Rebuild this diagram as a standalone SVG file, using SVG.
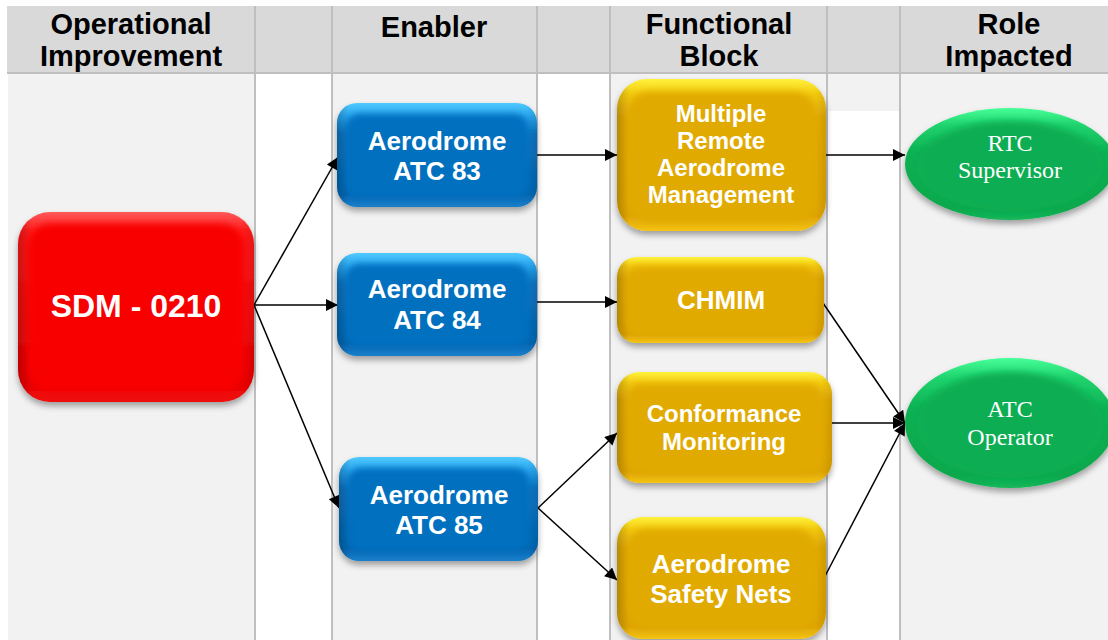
<svg xmlns="http://www.w3.org/2000/svg" width="1108" height="640" viewBox="0 0 1108 640">
  <defs>
    <style>
      .hdr { font-family: "Liberation Sans", Arial, sans-serif; font-weight: bold; font-size: 29px; fill: #000; text-anchor: middle; }
      .lbl { font-family: "Liberation Sans", Arial, sans-serif; font-weight: bold; fill: #fff; text-anchor: middle; }
      .role { font-family: "Liberation Serif", "Times New Roman", serif; font-size: 24px; fill: #fff; text-anchor: middle; }
      .grid { stroke: #bfbfbf; stroke-width: 2; fill: none; }
      .conn line { stroke: #000; stroke-width: 1.5; marker-end: url(#arrow); }
      .edge { fill: url(#sideShade); }
      .core { filter: url(#soft); }
    </style>
    <marker id="arrow" viewBox="0 0 10 10" refX="10" refY="5" markerWidth="16" markerHeight="12" markerUnits="userSpaceOnUse" orient="auto">
      <path d="M0,0 L10,5 L0,10 Z" fill="#000"/>
    </marker>
    <filter id="shadow" x="-10%" y="-10%" width="120%" height="130%">
      <feDropShadow dx="0" dy="4" stdDeviation="3" flood-color="#000" flood-opacity="0.35"/>
    </filter>
    <filter id="soft" x="-10%" y="-10%" width="120%" height="120%">
      <feGaussianBlur stdDeviation="3"/>
    </filter>
    <!-- darker left edge, slightly darker right edge -->
    <linearGradient id="sideShade" x1="0" y1="0" x2="1" y2="0">
      <stop offset="0" stop-color="#000" stop-opacity="0.18"/>
      <stop offset="0.06" stop-color="#000" stop-opacity="0"/>
      <stop offset="0.95" stop-color="#000" stop-opacity="0"/>
      <stop offset="1" stop-color="#000" stop-opacity="0.08"/>
    </linearGradient>
    <linearGradient id="redG" x1="0" y1="0" x2="0" y2="1">
      <stop offset="0" stop-color="#ff5a5a"/>
      <stop offset="0.1" stop-color="#ff1a1a"/>
      <stop offset="0.9" stop-color="#e80000"/>
      <stop offset="1" stop-color="#f01010"/>
    </linearGradient>
    <linearGradient id="blueG" x1="0" y1="0" x2="0" y2="1">
      <stop offset="0" stop-color="#50caff"/>
      <stop offset="0.12" stop-color="#2aa6ee"/>
      <stop offset="0.3" stop-color="#0874c2"/>
      <stop offset="0.88" stop-color="#0566b2"/>
      <stop offset="1" stop-color="#1a80cc"/>
    </linearGradient>
    <linearGradient id="yellowG" x1="0" y1="0" x2="0" y2="1">
      <stop offset="0" stop-color="#fff23c"/>
      <stop offset="0.1" stop-color="#f2c80e"/>
      <stop offset="0.25" stop-color="#e2aa06"/>
      <stop offset="0.9" stop-color="#dea404"/>
      <stop offset="1" stop-color="#f4c414"/>
    </linearGradient>
    <linearGradient id="greenG" x1="0" y1="0" x2="0" y2="1">
      <stop offset="0" stop-color="#46ff98"/>
      <stop offset="0.15" stop-color="#20d46e"/>
      <stop offset="0.4" stop-color="#0cb052"/>
      <stop offset="0.9" stop-color="#0aa84c"/>
      <stop offset="1" stop-color="#14b85a"/>
    </linearGradient>
  </defs>

  <!-- background lanes -->
  <rect x="0" y="0" width="1108" height="640" fill="#fff"/>
  <rect x="7" y="6" width="1101" height="67" fill="#d9d9d9"/>
  <rect x="8" y="74" width="246" height="566" fill="#f2f2f2"/>
  <rect x="333" y="74" width="203" height="566" fill="#f2f2f2"/>
  <rect x="611" y="74" width="215" height="566" fill="#f2f2f2"/>
  <rect x="828" y="74" width="71" height="37" fill="#f2f2f2"/>
  <rect x="901" y="74" width="207" height="566" fill="#f2f2f2"/>
  <g class="grid">
    <line x1="7" y1="73" x2="1108" y2="73"/>
    <line x1="255" y1="6" x2="255" y2="640"/>
    <line x1="332" y1="6" x2="332" y2="640"/>
    <line x1="537" y1="6" x2="537" y2="640"/>
    <line x1="610" y1="6" x2="610" y2="640"/>
    <line x1="827" y1="6" x2="827" y2="640"/>
    <line x1="900" y1="6" x2="900" y2="640"/>
  </g>

  <!-- column headings -->
  <g id="headers">
    <text class="hdr" x="131" y="34">Operational</text>
    <text class="hdr" x="131" y="66">Improvement</text>
    <text class="hdr" x="434" y="37" font-size="30">Enabler</text>
    <text class="hdr" x="719" y="34">Functional</text>
    <text class="hdr" x="719" y="66">Block</text>
    <text class="hdr" x="1009" y="34">Role</text>
    <text class="hdr" x="1009" y="66">Impacted</text>
  </g>

  <!-- connectors -->
  <g id="connectors" class="conn">
    <line x1="254" y1="305" x2="338" y2="157"/>
    <line x1="254" y1="305" x2="338" y2="305"/>
    <line x1="254" y1="305" x2="339" y2="508"/>
    <line x1="537" y1="155" x2="617" y2="155"/>
    <line x1="537" y1="302" x2="617" y2="302"/>
    <line x1="538" y1="508" x2="617" y2="433"/>
    <line x1="538" y1="508" x2="617" y2="580"/>
    <line x1="825" y1="155" x2="905" y2="155"/>
    <line x1="823" y1="303" x2="905" y2="423"/>
    <line x1="832" y1="423" x2="905" y2="423"/>
    <line x1="823" y1="580" x2="905" y2="423"/>
  </g>

  <!-- operational improvement -->
  <g id="sdm-0210">
    <rect x="18" y="212" width="236" height="190" rx="32" fill="url(#redG)" filter="url(#shadow)"/>
    <rect x="18" y="212" width="236" height="190" rx="32" class="edge"/>
    <rect x="28" y="224" width="216" height="168" rx="24" fill="#f80606" class="core"/>
    <text class="lbl" x="136" y="317" font-size="32">SDM - 0210</text>
  </g>

  <!-- enablers -->
  <g id="atc-83">
    <rect x="337" y="103" width="200" height="104" rx="20" fill="url(#blueG)" filter="url(#shadow)"/>
    <rect x="337" y="103" width="200" height="104" rx="20" class="edge"/>
    <rect x="346" y="114" width="182" height="84" rx="14" fill="#0670bf" class="core"/>
    <text class="lbl" x="437" y="150" font-size="26">Aerodrome</text>
    <text class="lbl" x="437" y="180" font-size="26">ATC 83</text>
  </g>
  <g id="atc-84">
    <rect x="337" y="253" width="200" height="103" rx="20" fill="url(#blueG)" filter="url(#shadow)"/>
    <rect x="337" y="253" width="200" height="103" rx="20" class="edge"/>
    <rect x="346" y="264" width="182" height="83" rx="14" fill="#0670bf" class="core"/>
    <text class="lbl" x="437" y="298" font-size="26">Aerodrome</text>
    <text class="lbl" x="437" y="329" font-size="26">ATC 84</text>
  </g>
  <g id="atc-85">
    <rect x="339" y="457" width="199" height="104" rx="20" fill="url(#blueG)" filter="url(#shadow)"/>
    <rect x="339" y="457" width="199" height="104" rx="20" class="edge"/>
    <rect x="348" y="468" width="181" height="84" rx="14" fill="#0670bf" class="core"/>
    <text class="lbl" x="439" y="504" font-size="26">Aerodrome</text>
    <text class="lbl" x="439" y="534" font-size="26">ATC 85</text>
  </g>

  <!-- functional blocks -->
  <g id="mram">
    <rect x="617" y="79" width="209" height="152" rx="30" fill="url(#yellowG)" filter="url(#shadow)"/>
    <rect x="617" y="79" width="209" height="152" rx="30" class="edge"/>
    <rect x="627" y="92" width="189" height="130" rx="22" fill="#e1aa05" class="core"/>
    <text class="lbl" x="721" y="122" font-size="24">Multiple</text>
    <text class="lbl" x="721" y="149" font-size="24">Remote</text>
    <text class="lbl" x="721" y="176" font-size="24">Aerodrome</text>
    <text class="lbl" x="721" y="203" font-size="24">Management</text>
  </g>
  <g id="chmim">
    <rect x="617" y="257" width="207" height="86" rx="20" fill="url(#yellowG)" filter="url(#shadow)"/>
    <rect x="617" y="257" width="207" height="86" rx="20" class="edge"/>
    <rect x="626" y="267" width="189" height="68" rx="14" fill="#e1aa05" class="core"/>
    <text class="lbl" x="721" y="309" font-size="26">CHMIM</text>
  </g>
  <g id="conformance-monitoring">
    <rect x="617" y="372" width="215" height="111" rx="22" fill="url(#yellowG)" filter="url(#shadow)"/>
    <rect x="617" y="372" width="215" height="111" rx="22" class="edge"/>
    <rect x="626" y="384" width="197" height="90" rx="16" fill="#e1aa05" class="core"/>
    <text class="lbl" x="724" y="422" font-size="24">Conformance</text>
    <text class="lbl" x="724" y="450" font-size="24">Monitoring</text>
  </g>
  <g id="aerodrome-safety-nets">
    <rect x="617" y="517" width="209" height="122" rx="26" fill="url(#yellowG)" filter="url(#shadow)"/>
    <rect x="617" y="517" width="209" height="122" rx="26" class="edge"/>
    <rect x="627" y="529" width="189" height="100" rx="20" fill="#e1aa05" class="core"/>
    <text class="lbl" x="721" y="573" font-size="26">Aerodrome</text>
    <text class="lbl" x="721" y="603" font-size="26">Safety Nets</text>
  </g>

  <!-- roles -->
  <g id="rtc-supervisor">
    <ellipse cx="1010" cy="164" rx="105" ry="56" fill="url(#greenG)" filter="url(#shadow)"/>
    <ellipse cx="1010" cy="166" rx="93" ry="45" fill="#0cae52" class="core"/>
    <text class="role" x="1010" y="151">RTC</text>
    <text class="role" x="1010" y="178">Supervisor</text>
  </g>
  <g id="atc-operator">
    <ellipse cx="1010" cy="423" rx="105" ry="65" fill="url(#greenG)" filter="url(#shadow)"/>
    <ellipse cx="1010" cy="425" rx="93" ry="53" fill="#0cae52" class="core"/>
    <text class="role" x="1010" y="417">ATC</text>
    <text class="role" x="1010" y="445">Operator</text>
  </g>
</svg>
